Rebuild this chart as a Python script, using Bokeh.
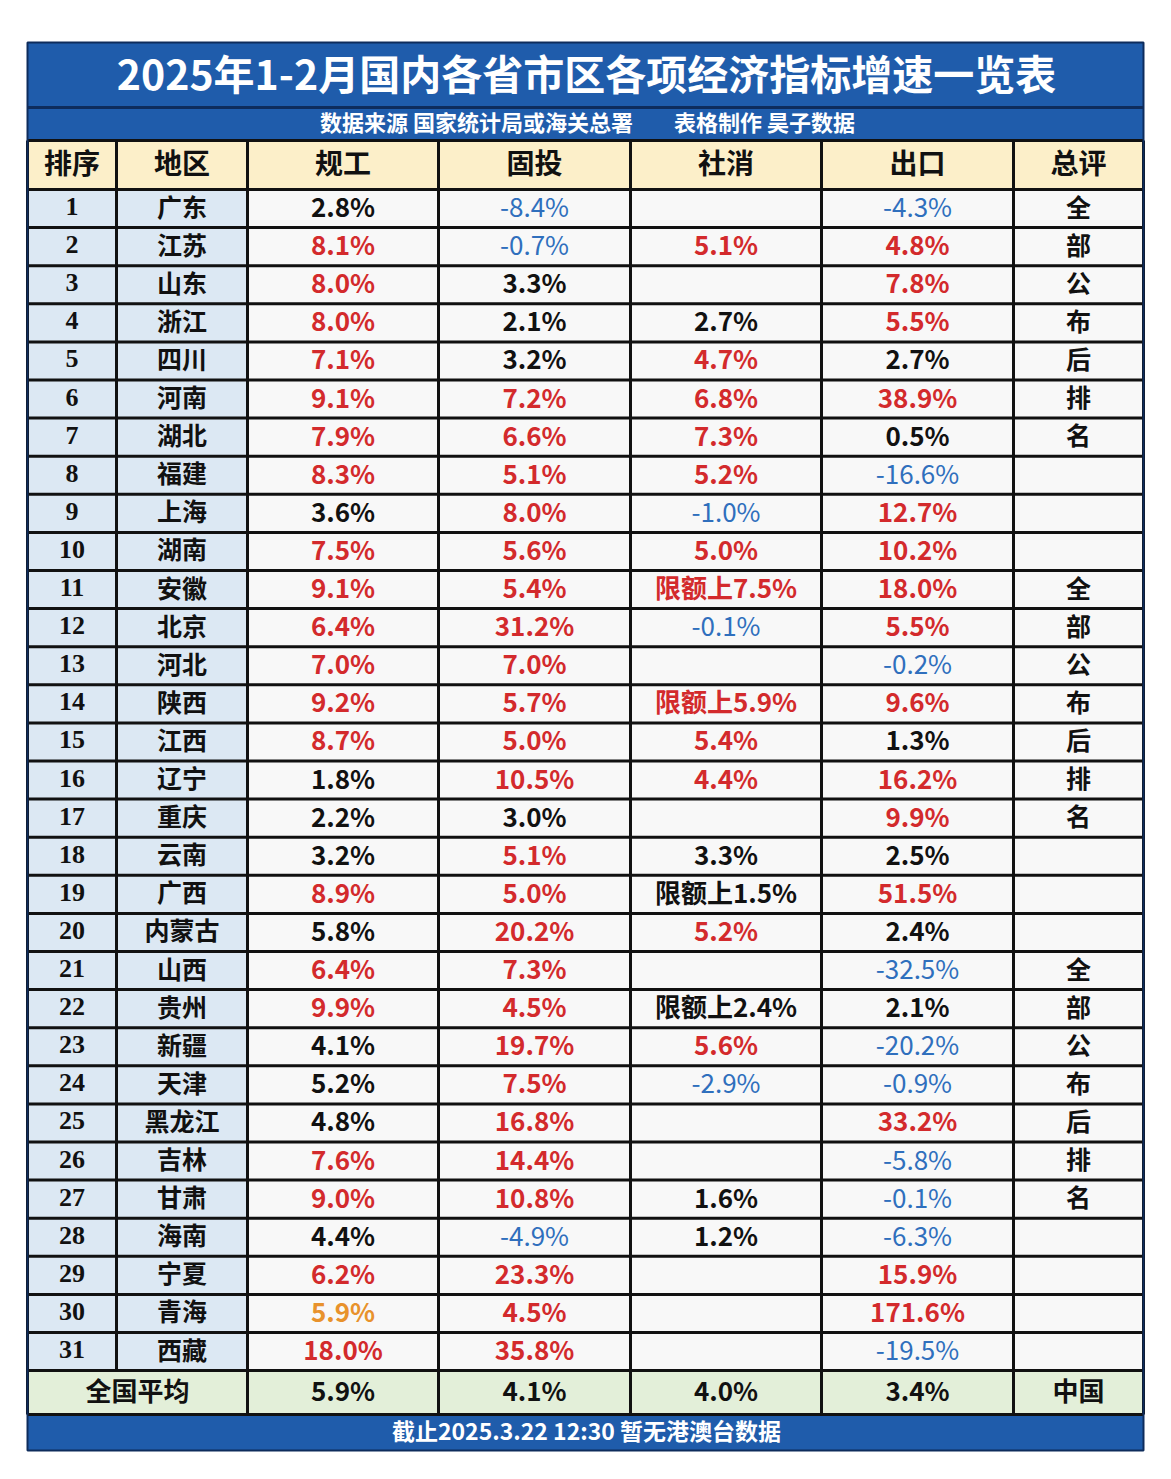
from bokeh.plotting import figure
from bokeh.models import Range1d, ColumnDataSource
from bokeh.core.properties import value
from bokeh.embed import file_html
from bokeh.resources import INLINE

# ---------------- data ----------------
title = "2025年1-2月国内各省市区各项经济指标增速一览表"
subtitle_a = "数据来源 国家统计局或海关总署"
subtitle_b = "表格制作 昊子数据"
footer = "截止2025.3.22 12:30 暂无港澳台数据"
headers = ["排序", "地区", "规工", "固投", "社消", "出口", "总评"]
ranks = list(range(1, 32))
regions = ["广东", "江苏", "山东", "浙江", "四川", "河南", "湖北", "福建", "上海", "湖南",
           "安徽", "北京", "河北", "陕西", "江西", "辽宁", "重庆", "云南", "广西", "内蒙古",
           "山西", "贵州", "新疆", "天津", "黑龙江", "吉林", "甘肃", "海南", "宁夏", "青海", "西藏"]
guigong = [2.8, 8.1, 8.0, 8.0, 7.1, 9.1, 7.9, 8.3, 3.6, 7.5,
           9.1, 6.4, 7.0, 9.2, 8.7, 1.8, 2.2, 3.2, 8.9, 5.8,
           6.4, 9.9, 4.1, 5.2, 4.8, 7.6, 9.0, 4.4, 6.2, 5.9, 18.0]
gutou = [-8.4, -0.7, 3.3, 2.1, 3.2, 7.2, 6.6, 5.1, 8.0, 5.6,
         5.4, 31.2, 7.0, 5.7, 5.0, 10.5, 3.0, 5.1, 5.0, 20.2,
         7.3, 4.5, 19.7, 7.5, 16.8, 14.4, 10.8, -4.9, 23.3, 4.5, 35.8]
shexiao = [None, 5.1, None, 2.7, 4.7, 6.8, 7.3, 5.2, -1.0, 5.0,
           7.5, -0.1, None, 5.9, 5.4, 4.4, None, 3.3, 1.5, 5.2,
           None, 2.4, 5.6, -2.9, None, None, 1.6, 1.2, None, None, None]
shexiao_quota_ranks = [11, 14, 19, 22]   # values given as 限额上 (above-quota retail)
chukou = [-4.3, 4.8, 7.8, 5.5, 2.7, 38.9, 0.5, -16.6, 12.7, 10.2,
          18.0, 5.5, -0.2, 9.6, 1.3, 16.2, 9.9, 2.5, 51.5, 2.4,
          -32.5, 2.1, -20.2, -0.9, 33.2, -5.8, -0.1, -6.3, 15.9, 171.6, -19.5]
zongping = ["全", "部", "公", "布", "后", "排", "名", "", "", "",
            "全", "部", "公", "布", "后", "排", "名", "", "", "",
            "全", "部", "公", "布", "后", "排", "名", "", "", "", ""]
avg_label = "全国平均"
avg_values = [5.9, 4.1, 4.0, 3.4]
avg_note = "中国"

# ---------------- layout / style ----------------
W, H = 1165, 1470
COL_X = [27, 116, 247, 438, 630, 821, 1013, 1143]
Y_TOP = 42
Y_TITLE_B = 106
Y_SUB_B = 140
Y_HEAD_B = 189
ROW_H = 38.1
Y_ROWS_B = Y_HEAD_B + 31 * ROW_H
Y_AVG_B = 1414
Y_FOOT_B = 1450
DY = -3   # optical correction for text vertical centring

BLUE_BAND = "#1f5cab"
NAVY = "#0e2c5c"
HEAD_BG = "#fcefc9"
SIDE_BG = "#dce8f3"
CELL_BG = "#f8f8f8"
AVG_BG = "#e3efd9"
RED = "#d32a2c"
BLUEV = "#2f6fbd"
ORANGE = "#e8922c"
BLACK = "#111111"
CJK = "Noto Sans CJK SC"

p = figure(width=W, height=H, output_backend="svg", toolbar_location=None,
           x_range=Range1d(0, W), y_range=Range1d(H, 0),
           min_border=0, background_fill_color="white", border_fill_color="white")
p.axis.visible = False
p.grid.visible = False
p.outline_line_color = None

def cx(c0, c1=None):
    c1 = c0 if c1 is None else c1
    return (COL_X[c0] + COL_X[c1 + 1]) / 2

def ry(i):
    return Y_HEAD_B + (i + 0.5) * ROW_H + DY

# backgrounds
p.quad(left=[COL_X[0]], right=[COL_X[-1]], top=[Y_TOP], bottom=[Y_SUB_B], fill_color=BLUE_BAND, line_color=None)
p.quad(left=[COL_X[0]], right=[COL_X[-1]], top=[Y_SUB_B], bottom=[Y_HEAD_B], fill_color=HEAD_BG, line_color=None)
p.quad(left=[COL_X[0]], right=[COL_X[2]], top=[Y_HEAD_B], bottom=[Y_ROWS_B], fill_color=SIDE_BG, line_color=None)
p.quad(left=[COL_X[2]], right=[COL_X[-1]], top=[Y_HEAD_B], bottom=[Y_ROWS_B], fill_color=CELL_BG, line_color=None)
p.quad(left=[COL_X[0]], right=[COL_X[-1]], top=[Y_ROWS_B], bottom=[Y_AVG_B], fill_color=AVG_BG, line_color=None)
p.quad(left=[COL_X[0]], right=[COL_X[-1]], top=[Y_AVG_B], bottom=[Y_FOOT_B], fill_color=BLUE_BAND, line_color=None)

# grid lines
hx0, hx1, hy0 = [], [], []
for y in [Y_SUB_B, Y_HEAD_B] + [Y_HEAD_B + k * ROW_H for k in range(1, 32)] + [Y_AVG_B]:
    hx0.append(COL_X[0]); hx1.append(COL_X[-1]); hy0.append(y)
p.segment(x0=hx0, x1=hx1, y0=hy0, y1=hy0, line_color=BLACK, line_width=3)
vx, vy0, vy1 = [], [], []
for k, x in enumerate(COL_X):
    vx.append(x); vy0.append(Y_SUB_B)
    vy1.append(Y_ROWS_B if k == 1 else Y_AVG_B)
p.segment(x0=vx, x1=vx, y0=vy0, y1=vy1, line_color=BLACK, line_width=3)
p.segment(x0=[COL_X[0]], x1=[COL_X[-1]], y0=[Y_TITLE_B + 1], y1=[Y_TITLE_B + 1], line_color=NAVY, line_width=3)
p.quad(left=[COL_X[0]], right=[COL_X[-1]], top=[Y_TOP], bottom=[Y_FOOT_B], fill_color=None, line_color=NAVY, line_width=2)

def txt(xs, ys, texts, size, color, bold=True, font=CJK):
    src = ColumnDataSource(dict(x=xs, y=ys, text=texts, color=color))
    p.text(x="x", y="y", text="text", source=src, text_color="color",
           text_align="center", text_baseline="middle",
           text_font=value(font), text_font_size=value(f"{size}px"),
           text_font_style="bold" if bold else "normal")

# title, subtitle, footer
txt([586], [75 + DY - 1], [title], 41, ["white"])
txt([476], [123 + DY], [subtitle_a], 22, ["white"])
txt([764], [123 + DY], [subtitle_b], 22, ["white"])
txt([586], [1432 + DY], [footer], 23, ["white"])

# header
txt([cx(k) for k in range(7)], [(Y_SUB_B + Y_HEAD_B) / 2 + DY] * 7, headers, 28, [BLACK] * 7)

# ranks and regions
txt([cx(0)] * 31, [ry(i) + 1 for i in range(31)], [str(r) for r in ranks], 26, [BLACK] * 31, font="Liberation Serif")
txt([cx(1)] * 31, [ry(i) for i in range(31)], regions, 25, [BLACK] * 31)

def color_for(v, a):
    if v < 0:
        return BLUEV
    if abs(v - a) < 1e-9:
        return ORANGE
    if v > a:
        return RED
    return BLACK

bold_x, bold_y, bold_t, bold_c = [], [], [], []
norm_x, norm_y, norm_t, norm_c = [], [], [], []
for col, series in enumerate([guigong, gutou, shexiao, chukou]):
    a = avg_values[col]
    for i, v in enumerate(series):
        if v is None:
            continue
        label = f"{v:.1f}%"
        if col == 2 and ranks[i] in shexiao_quota_ranks:
            label = "限额上" + label
        c = color_for(v, a)
        if c == BLUEV:
            norm_x.append(cx(col + 2)); norm_y.append(ry(i)); norm_t.append(label); norm_c.append(c)
        else:
            bold_x.append(cx(col + 2)); bold_y.append(ry(i)); bold_t.append(label); bold_c.append(c)
txt(bold_x, bold_y, bold_t, 26, bold_c)
txt(norm_x, norm_y, norm_t, 26, norm_c, bold=False)

# 总评 column
zx = [cx(6) for z in zongping if z]
zy = [ry(i) for i, z in enumerate(zongping) if z]
zt = [z for z in zongping if z]
txt(zx, zy, zt, 25, [BLACK] * len(zt))

# average row
ya = (Y_ROWS_B + Y_AVG_B) / 2 + DY
txt([cx(0, 1)] + [cx(k) for k in range(2, 6)] + [cx(6)], [ya] * 6,
    [avg_label] + [f"{v:.1f}%" for v in avg_values] + [avg_note], 26, [BLACK] * 6)

open("out.html", "w").write(file_html(p, INLINE))
